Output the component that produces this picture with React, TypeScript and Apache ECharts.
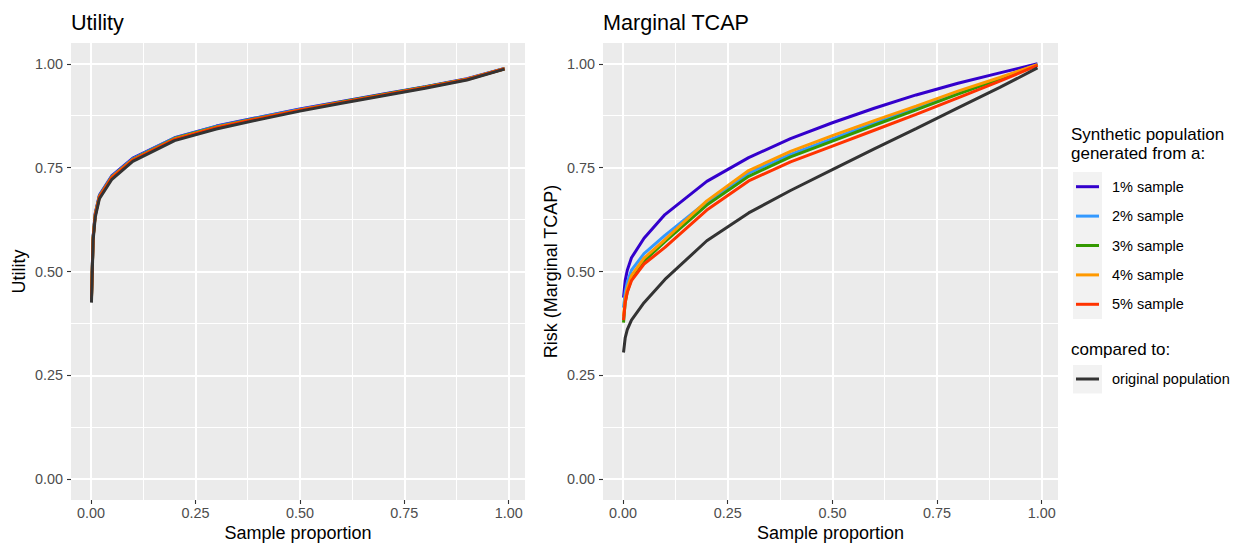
import React, { useEffect, useRef } from "react";
import * as echarts from "echarts";

// ---- data ----
const sampleProportion = [0.001, 0.005, 0.01, 0.02, 0.05, 0.1, 0.2, 0.3, 0.4, 0.5, 0.6, 0.7, 0.8, 0.9, 0.99];

const seriesNames = ["1% sample", "2% sample", "3% sample", "4% sample", "5% sample"];
const originalName = "original population";

const utility1 = [0.44, 0.585, 0.64, 0.684, 0.731, 0.773, 0.822, 0.85, 0.871, 0.891, 0.909, 0.927, 0.945, 0.964, 0.989];
const utility2 = [0.438, 0.583, 0.638, 0.682, 0.729, 0.771, 0.821, 0.849, 0.87, 0.89, 0.908, 0.926, 0.944, 0.963, 0.989];
const utility3 = [0.436, 0.582, 0.637, 0.681, 0.728, 0.77, 0.82, 0.848, 0.869, 0.889, 0.908, 0.926, 0.944, 0.963, 0.988];
const utility4 = [0.435, 0.581, 0.636, 0.68, 0.727, 0.769, 0.819, 0.847, 0.868, 0.889, 0.907, 0.925, 0.943, 0.963, 0.988];
const utility5 = [0.433, 0.58, 0.635, 0.679, 0.726, 0.768, 0.818, 0.846, 0.868, 0.888, 0.907, 0.925, 0.943, 0.962, 0.988];
const utilityOriginal = [0.425, 0.575, 0.63, 0.675, 0.722, 0.765, 0.815, 0.843, 0.865, 0.886, 0.905, 0.923, 0.941, 0.961, 0.987];

const tcap1 = [0.437, 0.478, 0.503, 0.533, 0.58, 0.637, 0.717, 0.774, 0.82, 0.858, 0.893, 0.925, 0.953, 0.978, 1.0];
const tcap2 = [0.413, 0.45, 0.474, 0.503, 0.543, 0.587, 0.668, 0.737, 0.782, 0.82, 0.857, 0.893, 0.93, 0.965, 0.998];
const tcap3 = [0.377, 0.425, 0.452, 0.482, 0.525, 0.572, 0.66, 0.729, 0.776, 0.814, 0.852, 0.889, 0.927, 0.963, 0.997];
const tcap4 = [0.392, 0.435, 0.46, 0.49, 0.532, 0.577, 0.67, 0.743, 0.789, 0.827, 0.863, 0.898, 0.934, 0.967, 0.998];
const tcap5 = [0.383, 0.425, 0.45, 0.478, 0.518, 0.558, 0.648, 0.718, 0.764, 0.802, 0.84, 0.878, 0.918, 0.958, 0.996];
const tcapOriginal = [0.305, 0.34, 0.36, 0.383, 0.425, 0.481, 0.574, 0.641, 0.695, 0.745, 0.795, 0.844, 0.894, 0.943, 0.99];

const majorTicks = [0, 0.25, 0.5, 0.75, 1];
const minorTicks = [0.125, 0.375, 0.625, 0.875];

const sampleColors = ["#3300CC", "#3399FF", "#339900", "#FF9900", "#FF3300"];
const originalColor = "#333333";

const FONT = "'Liberation Sans', Arial, Helvetica, sans-serif";

const utilitySets = [utility1, utility2, utility3, utility4, utility5];
const tcapSets = [tcap1, tcap2, tcap3, tcap4, tcap5];

const toPairs = (ys: number[]) => sampleProportion.map((x, i) => [x, ys[i]]);

export default function App() {
  const ref = useRef<HTMLDivElement>(null);

  useEffect(() => {
    if (!ref.current) return;
    const chart = echarts.init(ref.current, undefined, { renderer: "svg" });

    const X_MIN = -0.048;
    const X_MAX = 1.039;
    const Y_MIN = -0.05;
    const Y_MAX = 1.05;

    const majorX = (gridIndex: number) => ({
      type: "value",
      gridIndex,
      min: X_MIN,
      max: X_MAX,
      position: "bottom",
      axisLine: { show: false, onZero: false },
      axisTick: { show: true, customValues: majorTicks, length: 4, lineStyle: { color: "#333333", width: 1.1 } },
      axisLabel: {
        show: true,
        customValues: majorTicks,
        formatter: (v: number) => v.toFixed(2),
        color: "#4D4D4D",
        fontSize: 14.4,
        fontFamily: FONT,
        margin: 6,
      },
      splitLine: { show: true, lineStyle: { color: "#FFFFFF", width: 2 } },
    });
    const minorX = (gridIndex: number) => ({
      type: "value",
      gridIndex,
      min: X_MIN,
      max: X_MAX,
      position: "bottom",
      axisLine: { show: false, onZero: false },
      axisTick: { show: false, customValues: minorTicks },
      axisLabel: { show: false, customValues: minorTicks },
      splitLine: { show: true, lineStyle: { color: "#FFFFFF", width: 1 } },
    });
    const majorY = (gridIndex: number) => ({
      type: "value",
      gridIndex,
      min: Y_MIN,
      max: Y_MAX,
      position: "left",
      axisLine: { show: false, onZero: false },
      axisTick: { show: true, customValues: majorTicks, length: 4, lineStyle: { color: "#333333", width: 1.1 } },
      axisLabel: {
        show: true,
        customValues: majorTicks,
        formatter: (v: number) => v.toFixed(2),
        color: "#4D4D4D",
        fontSize: 14.4,
        fontFamily: FONT,
        margin: 8,
      },
      splitLine: { show: true, lineStyle: { color: "#FFFFFF", width: 2 } },
    });
    const minorY = (gridIndex: number) => ({
      type: "value",
      gridIndex,
      min: Y_MIN,
      max: Y_MAX,
      position: "left",
      axisLine: { show: false, onZero: false },
      axisTick: { show: false, customValues: minorTicks },
      axisLabel: { show: false, customValues: minorTicks },
      splitLine: { show: true, lineStyle: { color: "#FFFFFF", width: 1 } },
    });

    const makeSeries = (sets: number[][], original: number[], axisIndex: number) => {
      const list: any[] = sets.map((ys, i) => ({
        type: "line",
        name: seriesNames[i],
        xAxisIndex: axisIndex,
        yAxisIndex: axisIndex,
        data: toPairs(ys),
        showSymbol: false,
        symbol: "none",
        smooth: false,
        lineStyle: { color: sampleColors[i], width: 3 },
        itemStyle: { color: sampleColors[i] },
        z: 3,
      }));
      list.push({
        type: "line",
        name: originalName,
        xAxisIndex: axisIndex,
        yAxisIndex: axisIndex,
        data: toPairs(original),
        showSymbol: false,
        symbol: "none",
        smooth: false,
        lineStyle: { color: originalColor, width: 3 },
        itemStyle: { color: originalColor },
        z: 3,
      });
      return list;
    };

    // legend graphics
    const legendX = 1071;
    const keyX = 1073;
    const keyW = 29;
    const keyH = 29.4;
    const keyTop = 172;
    const legendGraphics: any[] = [
      { type: "text", x: legendX, y: 134, style: { text: "Synthetic population", font: `17px ${FONT}`, fill: "#000", textVerticalAlign: "middle" } },
      { type: "text", x: legendX, y: 153, style: { text: "generated from a:", font: `17px ${FONT}`, fill: "#000", textVerticalAlign: "middle" } },
      { type: "rect", shape: { x: keyX, y: keyTop, width: keyW, height: keyH * seriesNames.length }, style: { fill: "#F2F2F2" } },
    ];
    seriesNames.forEach((name, i) => {
      const cy = keyTop + keyH * i + keyH / 2;
      legendGraphics.push({ type: "line", shape: { x1: keyX + 3, y1: cy, x2: keyX + keyW - 3, y2: cy }, style: { stroke: sampleColors[i], lineWidth: 3 } });
      legendGraphics.push({ type: "text", x: 1112, y: cy, style: { text: name, font: `14.5px ${FONT}`, fill: "#000", textVerticalAlign: "middle" } });
    });
    legendGraphics.push({ type: "text", x: legendX, y: 349, style: { text: "compared to:", font: `17px ${FONT}`, fill: "#000", textVerticalAlign: "middle" } });
    legendGraphics.push({ type: "rect", shape: { x: keyX, y: 365, width: keyW, height: 28.5 }, style: { fill: "#F2F2F2" } });
    legendGraphics.push({ type: "line", shape: { x1: keyX + 3, y1: 379, x2: keyX + keyW - 3, y2: 379 }, style: { stroke: originalColor, lineWidth: 3 } });
    legendGraphics.push({ type: "text", x: 1112, y: 379, style: { text: originalName, font: `14.5px ${FONT}`, fill: "#000", textVerticalAlign: "middle" } });

    const textGraphics: any[] = [
      { type: "text", x: 71, y: 22, style: { text: "Utility", font: `21.6px ${FONT}`, fill: "#000", textVerticalAlign: "middle" } },
      { type: "text", x: 603, y: 22, style: { text: "Marginal TCAP", font: `21.6px ${FONT}`, fill: "#000", textVerticalAlign: "middle" } },
      { type: "text", x: 298, y: 533, style: { text: "Sample proportion", font: `18px ${FONT}`, fill: "#000", textAlign: "center", textVerticalAlign: "middle" } },
      { type: "text", x: 830.5, y: 533, style: { text: "Sample proportion", font: `18px ${FONT}`, fill: "#000", textAlign: "center", textVerticalAlign: "middle" } },
      { type: "text", x: 19, y: 271.5, rotation: Math.PI / 2, style: { text: "Utility", font: `18px ${FONT}`, fill: "#000", textAlign: "center", textVerticalAlign: "middle" } },
      { type: "text", x: 551, y: 271.5, rotation: Math.PI / 2, style: { text: "Risk (Marginal TCAP)", font: `18px ${FONT}`, fill: "#000", textAlign: "center", textVerticalAlign: "middle" } },
    ];

    const option: any = {
      animation: false,
      backgroundColor: "#FFFFFF",
      grid: [
        { left: 71, top: 43, width: 454, height: 457, show: true, backgroundColor: "#EBEBEB", borderWidth: 0, containLabel: false },
        { left: 603, top: 43, width: 455, height: 457, show: true, backgroundColor: "#EBEBEB", borderWidth: 0, containLabel: false },
      ],
      xAxis: [majorX(0), majorX(1), minorX(0), minorX(1)],
      yAxis: [majorY(0), majorY(1), minorY(0), minorY(1)],
      series: [...makeSeries(utilitySets, utilityOriginal, 0), ...makeSeries(tcapSets, tcapOriginal, 1)],
      graphic: [...textGraphics, ...legendGraphics],
    };

    chart.setOption(option);
    return () => chart.dispose();
  }, []);

  return (
    <div
      ref={ref}
      style={{ position: "fixed", left: 0, top: 0, width: 1241, height: 544, background: "#FFFFFF" }}
    />
  );
}
